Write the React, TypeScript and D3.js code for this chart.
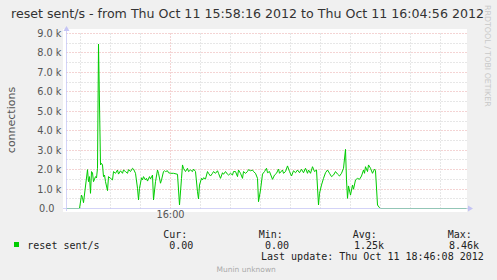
import React from "react";
import * as d3 from "d3";

const W = 497;
const H = 280;

const titleText = "reset sent/s - from Thu Oct 11 15:58:16 2012 to Thu Oct 11 16:04:56 2012";
const yAxisTitle = "connections";
const seriesName = "reset sent/s";
const spanSeconds = 400; // 15:58:16 .. 16:04:56
const firstGridOffset = 14; // 15:58:30
const gridStep = 30;

// seconds since 15:58:16
const times = [
  0, 13, 15, 16, 17, 21, 22, 23, 24, 25, 26, 27, 29, 30, 31, 32, 34, 35, 36, 37,
  38, 39, 41, 42, 44, 46, 47, 49, 51, 52, 54, 56, 57, 59, 61, 62, 64, 66, 67, 69,
  71, 72, 73, 75, 76, 77, 79, 80, 81, 83, 84, 86, 87, 89, 91, 92, 94, 95, 97, 98,
  99, 101, 102, 104, 107, 111, 113, 115, 116, 117, 119, 121, 122, 124, 126, 127, 129, 131, 132, 133,
  135, 136, 137, 139, 141, 142, 144, 146, 147, 149, 151, 152, 154, 156, 157, 159, 161, 162, 164, 166,
  167, 169, 171, 172, 174, 176, 177, 179, 181, 182, 184, 186, 187, 189, 191, 192, 194, 196, 198, 200,
  201, 203, 206, 208, 210, 212, 213, 216, 217, 219, 221, 223, 225, 227, 229, 231, 233, 235, 237, 239,
  241, 242, 244, 246, 248, 250, 252, 253, 255, 257, 259, 261, 263, 265, 267, 269, 271, 273, 275, 277,
  279, 280, 281, 282, 284, 286, 287, 289, 291, 293, 295, 297, 298, 299, 301, 302, 304, 306, 308, 309,
  311, 313, 314, 400,
];

// connections per second
const values = [
  0, 0, 690, 560, 300, 2000, 1380, 1640, 780, 1900, 1830, 1380, 1640, 1570, 2070, 8460, 2240, 2320, 2240, 1640,
  1720, 1380, 920, 1640, 1550, 1470, 1900, 1810, 1980, 1770, 1940, 1810, 1980, 1900, 1810, 2000, 1900, 2070, 2030, 1810,
  1040, 440, 1040, 1580, 1470, 1640, 1470, 1550, 1410, 1640, 1520, 1720, 440, 1380, 1980, 1810, 1300, 1470, 1900, 1940,
  1900, 1940, 1840, 1810, 1810, 1760, 180, 1550, 2240, 2070, 1900, 2070, 1900, 1980, 1900, 2030, 1900, 860, 490, 1210,
  1550, 1470, 1580, 1520, 1900, 1810, 1670, 1810, 1900, 1810, 1940, 1810, 1550, 1840, 1760, 1900, 1760, 1720, 1810, 1720,
  1900, 1900, 1640, 1980, 1810, 1550, 1900, 1810, 1900, 2000, 1940, 1980, 1900, 1810, 1550, 350, 950, 1770, 1900, 2070,
  1840, 1900, 1500, 1720, 1810, 2030, 1810, 1980, 1810, 1900, 2190, 1900, 1670, 1940, 1840, 1980, 1840, 2020, 1840, 2070,
  1810, 1980, 1810, 2150, 1900, 1980, 180, 780, 1210, 1550, 1840, 1980, 1810, 1640, 1720, 1900, 1770, 1670, 1810, 2070,
  3040, 1470, 520, 1160, 690, 1210, 990, 1470, 1550, 1500, 1670, 1980, 1810, 2150, 1900, 2240, 2070, 1810, 2030, 1940,
  180, 40, 0, 0,
];

const yMax = 9000;
const yMajorValues = [0, 1000, 2000, 3000, 4000, 5000, 6000, 7000, 8000, 9000];
const yTickLabels = ["0.0", "1.0 k", "2.0 k", "3.0 k", "4.0 k", "5.0 k", "6.0 k", "7.0 k", "8.0 k", "9.0 k"];
const xMajorOffsets = [104];
const xTickLabels = ["16:00"];

const legendHeaders = ["Cur:", "Min:", "Avg:", "Max:"];
const legendValues = ["0.00", "0.00", "1.25k", "8.46k"];
const lastUpdate = "Last update: Thu Oct 11 18:46:08 2012";
const footer = "Munin unknown";
const watermark = "RRDTOOL / TOBI OETIKER";

export default function App() {
  const x = d3.scaleLinear().domain([0, spanSeconds]).range([66.5, 466.5]);
  const y = d3.scaleLinear().domain([0, yMax]).range([208.5, 33.5]);
  const snapX = (t: number) => Math.floor(x(t)) + 0.5;
  const snapY = (v: number) => Math.floor(y(v)) + 0.5;

  const line = d3
    .line<number>()
    .x((_, i) => x(times[i]))
    .y((d) => y(d));
  const pathD = line(values) || "";

  const xGrid = d3.range(firstGridOffset, spanSeconds, gridStep).filter((t) => !xMajorOffsets.includes(t));
  const yMinor = d3.range(500, yMax, 1000);

  const gridMinor = "#cfcfcf";
  const gridMajor = "#e8a8a8";
  const axisColor = "#c4c4f4";
  const sans = "'DejaVu Sans', sans-serif";
  const mono = "'DejaVu Sans Mono', monospace";

  const headerX = [163.3, 258.7, 352.7, 447.7];
  const valueX = [169.3, 265, 354, 449];

  return (
    <svg width={W} height={H} style={{ position: "absolute", left: 0, top: 0, display: "block" }}>
      <rect x={0} y={0} width={W} height={H} fill="#f0f0f0" />
      <rect x={63} y={29} width={404} height={183} fill="#ffffff" />

      {/* minor grid */}
      {xGrid.map((t) => (
        <line key={"xg" + t} x1={snapX(t)} x2={snapX(t)} y1={y(yMax)} y2={y(0)} stroke={gridMinor} strokeDasharray="1,2" />
      ))}
      {yMinor.map((v) => (
        <line key={"yg" + v} x1={x(0)} x2={x(spanSeconds)} y1={snapY(v)} y2={snapY(v)} stroke={gridMinor} strokeDasharray="1,2" />
      ))}
      {/* major grid */}
      {xMajorOffsets.map((t) => (
        <line key={"xm" + t} x1={snapX(t)} x2={snapX(t)} y1={y(yMax)} y2={y(0)} stroke={gridMajor} strokeDasharray="1,2" />
      ))}
      {yMajorValues.slice(1).map((v) => (
        <line key={"ym" + v} x1={x(0)} x2={x(spanSeconds)} y1={snapY(v)} y2={snapY(v)} stroke={gridMajor} strokeDasharray="1,2" />
      ))}

      {/* data */}
      <path d={pathD} fill="none" stroke="#00cc00" strokeWidth={1} strokeLinejoin="round" />

      {/* axes */}
      <line x1={63} x2={469} y1={y(0)} y2={y(0)} stroke={axisColor} strokeOpacity={0.75} />
      <line x1={x(0)} x2={x(0)} y1={211} y2={30} stroke={axisColor} strokeOpacity={0.75} />
      <path d={`M${468},${y(0) - 3}L${473},${y(0)}L${468},${y(0) + 3}Z`} fill={axisColor} />
      <path d={`M${x(0) - 3},${31}L${x(0)},${26}L${x(0) + 3},${31}Z`} fill={axisColor} />

      {/* y labels */}
      {yMajorValues.map((v, i) => (
        <text
          key={"yl" + v}
          x={v === 0 ? 54.5 : 61.5}
          y={snapY(v)}
          dy="0.36em"
          textAnchor="end"
          fontFamily={sans}
          fontSize={9.75}
          fill="#555"
        >
          {yTickLabels[i]}
        </text>
      ))}

      {/* x labels */}
      {xMajorOffsets.map((t, i) => (
        <text key={"xl" + t} x={snapX(t)} y={218} textAnchor="middle" fontFamily={sans} fontSize={9.75} fill="#555">
          {xTickLabels[i]}
        </text>
      ))}

      {/* axis title */}
      <text transform="translate(15,120) rotate(-90)" textAnchor="middle" fontFamily={sans} fontSize={11} fill="#555">
        {yAxisTitle}
      </text>

      {/* title */}
      <text x={11} y={17.5} fontFamily={sans} fontSize={12.5} fill="#333" textLength={473} lengthAdjust="spacingAndGlyphs">
        {titleText}
      </text>

      {/* watermark */}
      <text transform="translate(485,5) rotate(90)" fontFamily={sans} fontSize={7.9} fill="#c8c8c8">
        {watermark}
      </text>

      {/* legend */}
      <rect x={14} y={242} width={5} height={5} fill="#00cc00" />
      <text x={27.3} y={248.5} fontFamily={mono} fontSize={10} fill="#222">
        {seriesName}
      </text>
      {legendHeaders.map((h, i) => (
        <text key={"lh" + i} x={headerX[i]} y={237.5} fontFamily={mono} fontSize={10} fill="#222">
          {h}
        </text>
      ))}
      {legendValues.map((v, i) => (
        <text key={"lv" + i} x={valueX[i]} y={248.5} fontFamily={mono} fontSize={10} fill="#222">
          {v}
        </text>
      ))}
      <text x={261} y={260} fontFamily={mono} fontSize={10} fill="#222">
        {lastUpdate}
      </text>
      <text x={216.5} y={272.3} fontFamily={sans} fontSize={7.5} fill="#aaa">
        {footer}
      </text>
    </svg>
  );
}
